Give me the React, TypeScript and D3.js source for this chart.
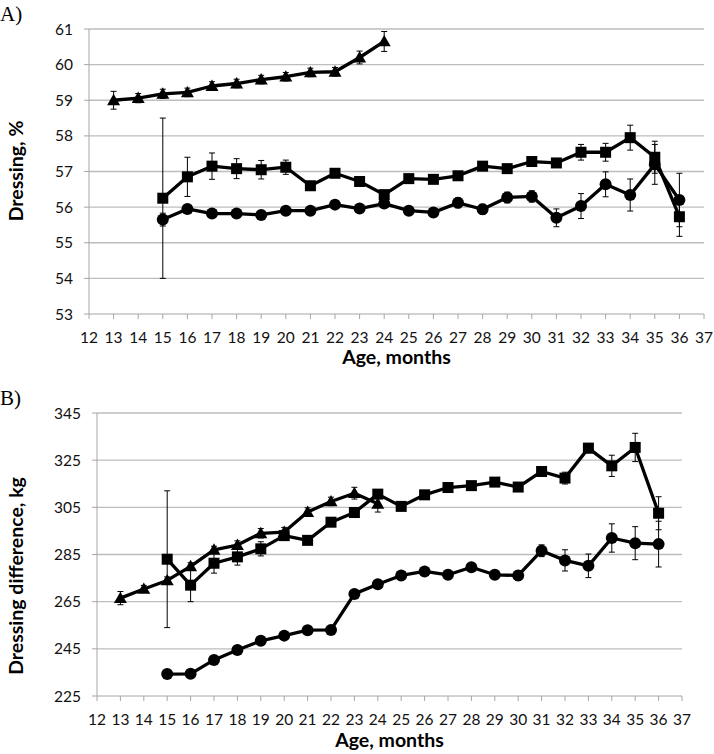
import React from 'react';
import * as d3 from 'd3';

// Panel A: dressing, %
const monthsTri = [13, 14, 15, 16, 17, 18, 19, 20, 21, 22, 23, 24];
const monthsLong = [15, 16, 17, 18, 19, 20, 21, 22, 23, 24, 25, 26, 27, 28, 29, 30, 31, 32, 33, 34, 35, 36];

const aTri = [59.0, 59.06, 59.18, 59.22, 59.4, 59.47, 59.58, 59.66, 59.78, 59.8, 60.2, 60.65];
const aTriErr = [0.25, 0.13, 0.13, 0.12, 0.12, 0.12, 0.12, 0.12, 0.12, 0.12, 0.18, 0.28];
const aSq = [56.25, 56.85, 57.15, 57.08, 57.05, 57.12, 56.6, 56.95, 56.72, 56.35, 56.8, 56.78, 56.88, 57.15, 57.08, 57.28, 57.24, 57.54, 57.54, 57.95, 57.4, 55.73];
const aSqErr = [2.25, 0.55, 0.37, 0.28, 0.26, 0.2, 0.1, 0.1, 0.1, 0.12, 0.1, 0.1, 0.1, 0.1, 0.1, 0.1, 0.12, 0.22, 0.25, 0.35, 0.45, 0.55];
const aCirc = [55.65, 55.95, 55.82, 55.82, 55.78, 55.9, 55.9, 56.07, 55.96, 56.1, 55.9, 55.85, 56.12, 55.94, 56.27, 56.3, 55.7, 56.03, 56.64, 56.34, 57.2, 56.2];
const aCircErr = [0.18, 0.08, 0.06, 0.06, 0.06, 0.06, 0.06, 0.08, 0.08, 0.08, 0.1, 0.12, 0.14, 0.14, 0.15, 0.16, 0.25, 0.35, 0.35, 0.45, 0.56, 0.75];

// Panel B: dressing difference, kg
const bTri = [266.5, 270.4, 274, 280, 287, 289, 294, 294.5, 303, 307.5, 311, 306.5];
const bTriErr = [2.8, 1.5, 1.5, 1.5, 1.5, 1.8, 2, 2, 1.8, 1.8, 2.5, 3.5];
const bSq = [283, 272, 281.3, 284, 287.4, 293, 291, 298.7, 302.8, 310.6, 305.4, 310.3, 313.4, 314.2, 315.7, 313.6, 320.2, 317.4, 330.1, 322.6, 330.4, 302.5];
const bSqErr = [29, 7, 4.2, 3.5, 3, 2, 1.2, 1.2, 1.2, 1.2, 1.2, 1.2, 1.2, 1.2, 1.2, 1.5, 1.5, 2.5, 2, 4.5, 6, 7];
const bCirc = [234.3, 234.4, 240.3, 244.5, 248.4, 250.6, 252.9, 253, 268.3, 272.4, 276.1, 277.8, 276.4, 279.6, 276.4, 276.1, 286.6, 282.5, 280.2, 292, 289.8, 289.4];
const bCircErr = [1.8, 1, 1, 1, 1, 1, 1, 1, 1, 1, 1, 1, 1, 1, 1.5, 2, 2.5, 4.5, 5, 6, 7, 9.7];

const xTicks = d3.range(12, 38);
const aYTicks = [53, 54, 55, 56, 57, 58, 59, 60, 61];
const bYTicks = [225, 245, 265, 285, 305, 325, 345];

const FONT = 'Lato, "Open Sans", sans-serif';

type Series = { x: number[]; y: number[]; err: number[]; marker: 'tri' | 'sq' | 'circ' };

function Marker({ kind, cx, cy }: { kind: string; cx: number; cy: number }) {
  if (kind === 'circ') return <circle cx={cx} cy={cy} r={6} fill="#000" />;
  if (kind === 'sq') return <rect x={cx - 5.5} y={cy - 5.5} width={11} height={11} fill="#000" />;
  const s = 6.5;
  return <path d={`M${cx},${cy - s}L${cx + s},${cy + s * 0.75}L${cx - s},${cy + s * 0.75}Z`} fill="#000" />;
}

function Panel(props: {
  left: number; right: number; top: number; bottom: number;
  yDomain: [number, number]; yTicks: number[]; series: Series[];
  yTitle: string; yTitleY: number; tickLabelY: number; xTitleY: number;
  label: string; labelY: number;
}) {
  const { left, right, top, bottom, yDomain, yTicks, series } = props;
  const x = d3.scaleLinear().domain([12, 37]).range([left, right]);
  const y = d3.scaleLinear().domain(yDomain).range([bottom, top]);
  const line = d3.line<[number, number]>().x(d => x(d[0])).y(d => y(d[1]));

  return (
    <g>
      <text x={0} y={props.labelY} fontFamily="'Liberation Serif', serif" fontSize={21}>{props.label}</text>
      {yTicks.map(t => (
        <g key={'g' + t}>
          {t !== yDomain[0] && (
            <line x1={left} x2={right} y1={y(t)} y2={y(t)} stroke="#bdbdbd" strokeWidth={1.3} />
          )}
          <line x1={left - 5} x2={left} y1={y(t)} y2={y(t)} stroke="#a6a6a6" />
          <text x={left - 16} y={y(t)} dy="0.36em" textAnchor="end" fontFamily={FONT} fontSize={15.5} fill="#111">{t}</text>
        </g>
      ))}
      <line x1={left} x2={left} y1={top} y2={bottom} stroke="#a6a6a6" />
      <line x1={left} x2={right} y1={bottom} y2={bottom} stroke="#a6a6a6" />
      {xTicks.map(t => (
        <g key={'x' + t}>
          <line x1={x(t)} x2={x(t)} y1={bottom} y2={bottom + 5} stroke="#a6a6a6" />
          <text x={x(t)} y={props.tickLabelY} textAnchor="middle" fontFamily={FONT} fontSize={15.5} fill="#111">{t}</text>
        </g>
      ))}
      <text x={(left + right) / 2} y={props.xTitleY} textAnchor="middle" fontFamily={FONT} fontWeight="bold" fontSize={19.5}>Age, months</text>
      <text transform={`translate(23,${props.yTitleY}) rotate(-90)`} textAnchor="middle" fontFamily={FONT} fontWeight="bold" fontSize={19.5}>{props.yTitle}</text>
      {series.map((s, si) => {
        const pts = s.x.map((v, i) => [v, s.y[i]] as [number, number]);
        return (
          <g key={'s' + si}>
            {pts.map((p, i) => {
              const cx = x(p[0]);
              const hi = y(p[1] + s.err[i]);
              const lo = y(p[1] - s.err[i]);
              return (
                <g key={'e' + i} stroke="#000" strokeWidth={1}>
                  <line x1={cx} x2={cx} y1={hi} y2={lo} />
                  <line x1={cx - 3} x2={cx + 3} y1={hi} y2={hi} />
                  <line x1={cx - 3} x2={cx + 3} y1={lo} y2={lo} />
                </g>
              );
            })}
            <path d={line(pts) || ''} fill="none" stroke="#000" strokeWidth={3.3} strokeLinejoin="round" />
            {pts.map((p, i) => <Marker key={'m' + i} kind={s.marker} cx={x(p[0])} cy={y(p[1])} />)}
          </g>
        );
      })}
    </g>
  );
}

export default function App() {
  return (
    <svg width={714} height={754} style={{ position: 'absolute', left: 0, top: 0, background: '#fff' }}>
      <Panel
        left={89} right={704} top={29} bottom={314}
        yDomain={[53, 61]} yTicks={aYTicks}
        series={[
          { x: monthsTri, y: aTri, err: aTriErr, marker: 'tri' },
          { x: monthsLong, y: aCirc, err: aCircErr, marker: 'circ' },
          { x: monthsLong, y: aSq, err: aSqErr, marker: 'sq' },
        ]}
        yTitle="Dressing, %" yTitleY={171} tickLabelY={343} xTitleY={364}
        label="A)" labelY={21}
      />
      <Panel
        left={97} right={682} top={413} bottom={696}
        yDomain={[225, 345]} yTicks={bYTicks}
        series={[
          { x: monthsTri, y: bTri, err: bTriErr, marker: 'tri' },
          { x: monthsLong, y: bCirc, err: bCircErr, marker: 'circ' },
          { x: monthsLong, y: bSq, err: bSqErr, marker: 'sq' },
        ]}
        yTitle="Dressing difference, kg" yTitleY={576} tickLabelY={725} xTitleY={747}
        label="B)" labelY={405}
      />
    </svg>
  );
}
